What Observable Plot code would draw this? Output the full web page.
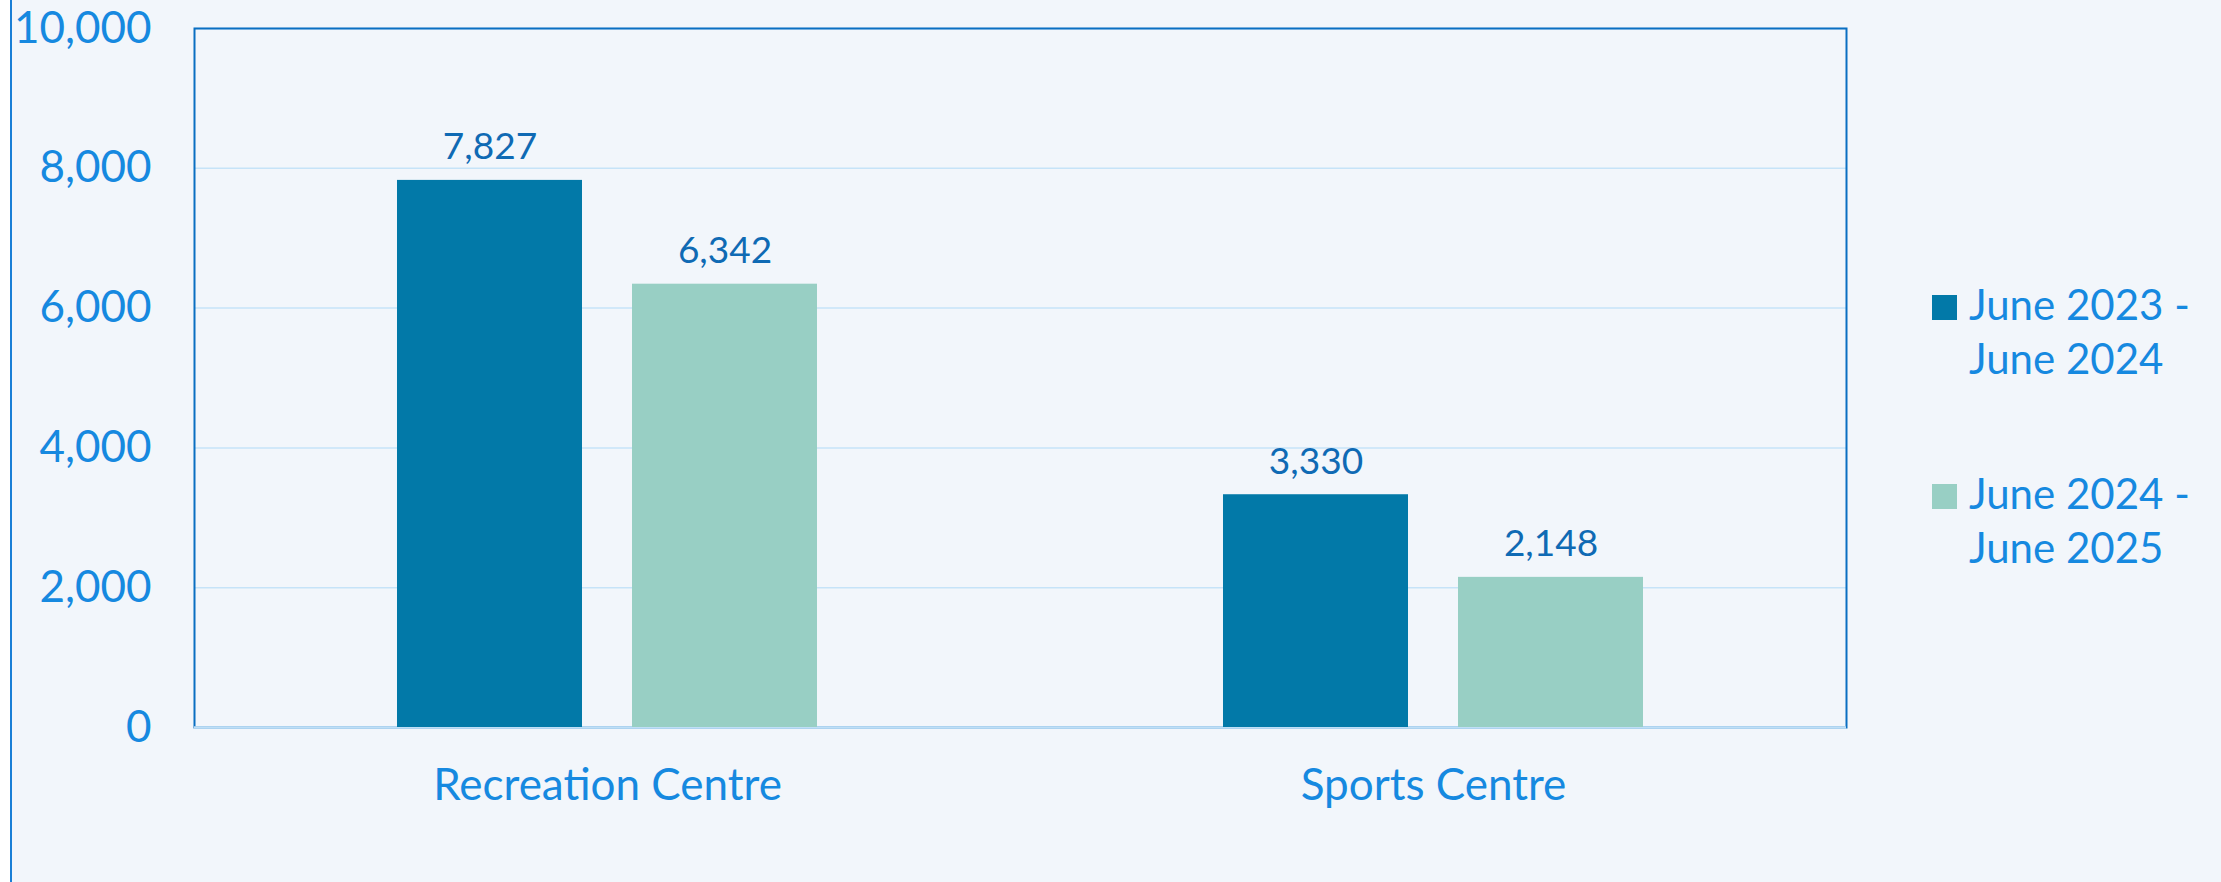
<!DOCTYPE html>
<html>
<head>
<meta charset="utf-8">
<script src="https://cdn.jsdelivr.net/npm/d3@7"></script>
<script src="https://cdn.jsdelivr.net/npm/@observablehq/plot@0.6"></script>
<style>
  html, body { margin: 0; padding: 0; background: #f2f6fb; width: 2221px; height: 882px; overflow: hidden; }
  #wrap { position: relative; width: 2221px; height: 882px; font-family: Lato, "Noto Sans", sans-serif; }
  #whiteStrip { position: absolute; left: 0; top: 0; width: 10px; height: 882px; background: #ffffff; }
  #edge { position: absolute; left: 10px; top: 0; width: 2px; height: 882px; background: #1a7fd6; }
  #chart { position: absolute; left: 0; top: 0; }
  #legend { position: absolute; left: 1932px; top: 277px; font-size: 42px; line-height: 54px; color: #1689e0; }
  .item { position: relative; padding-left: 37px; margin-bottom: 81px; white-space: nowrap; }
  .sw { position: absolute; left: 0; top: 18px; width: 25px; height: 25px; }
</style>
</head>
<body>
<div id="wrap">
  <div id="whiteStrip"></div>
  <div id="edge"></div>
  <div id="chart"></div>
  <div id="legend"></div>
</div>
<script>
const categories = ["Recreation Centre", "Sports Centre"];
const series = ["June 2023 - June 2024", "June 2024 - June 2025"];
const values2023_24 = [7827, 3330];
const values2024_25 = [6342, 2148];
const yTicks = [0, 2000, 4000, 6000, 8000, 10000];
const seriesColors = ["#0279a8", "#98cfc4"];

const data = categories.flatMap((c, i) => [
  {category: c, series: series[0], value: values2023_24[i]},
  {category: c, series: series[1], value: values2024_25[i]}
]);

const W = 2221, H = 882;
const mL = 194, mR = 375, mT = 28, mB = 155;
const bandW = (W - mL - mR) / categories.length;
// sub-band layout within each category band
const sub = d3.scaleBand().domain(series).range([0, bandW]).paddingInner(50 / 235).paddingOuter(0.8638);
const fmt = d3.format(",");

const barMarks = series.map((s, k) => {
  const left = sub(s);
  const right = bandW - left - sub.bandwidth();
  return Plot.barY(data.filter(d => d.series === s), {
    x: "category", y: "value", fill: seriesColors[k],
    insetLeft: left, insetRight: right
  });
});
const textMarks = series.map((s, k) => {
  const dx = sub(s) + sub.bandwidth() / 2 - bandW / 2;
  return Plot.text(data.filter(d => d.series === s), {
    x: "category", y: "value", text: d => fmt(d.value),
    dx, dy: -21, lineAnchor: "bottom", fill: "#0f6ab4", fontSize: 37
  });
});

const chart = Plot.plot({
  width: W, height: H,
  marginLeft: mL, marginRight: mR, marginTop: mT, marginBottom: mB,
  style: {background: "transparent", fontFamily: "Lato, 'Noto Sans', sans-serif", overflow: "visible"},
  x: {type: "band", domain: categories, padding: 0, label: null},
  y: {domain: [0, 10000], ticks: yTicks, label: null},
  marks: [
    Plot.gridY(yTicks, {stroke: "#c6e3f8", strokeOpacity: 1, strokeWidth: 1.5}),
    Plot.frame({stroke: "#0a6fc2", strokeWidth: 2}),
    Plot.ruleY([0], {stroke: "#bfdff6", strokeWidth: 2.5}),
    ...barMarks,
    ...textMarks,
    Plot.axisY(yTicks, {tickSize: 0, tickPadding: 43, tickFormat: fmt, fontSize: 44, fill: "#1689e0", label: null}),
    Plot.axisX({tickSize: 0, tickPadding: 41, fontSize: 44, fill: "#1689e0", label: null})
  ]
});
document.getElementById("chart").appendChild(chart);

const legend = document.getElementById("legend");
series.forEach((s, k) => {
  const item = document.createElement("div");
  item.className = "item";
  const sw = document.createElement("span");
  sw.className = "sw";
  sw.style.background = seriesColors[k];
  item.appendChild(sw);
  const parts = s.split(" - ");
  const l1 = document.createElement("div"); l1.textContent = parts[0] + " -";
  const l2 = document.createElement("div"); l2.textContent = parts[1];
  item.appendChild(l1); item.appendChild(l2);
  legend.appendChild(item);
});
</script>
</body>
</html>
